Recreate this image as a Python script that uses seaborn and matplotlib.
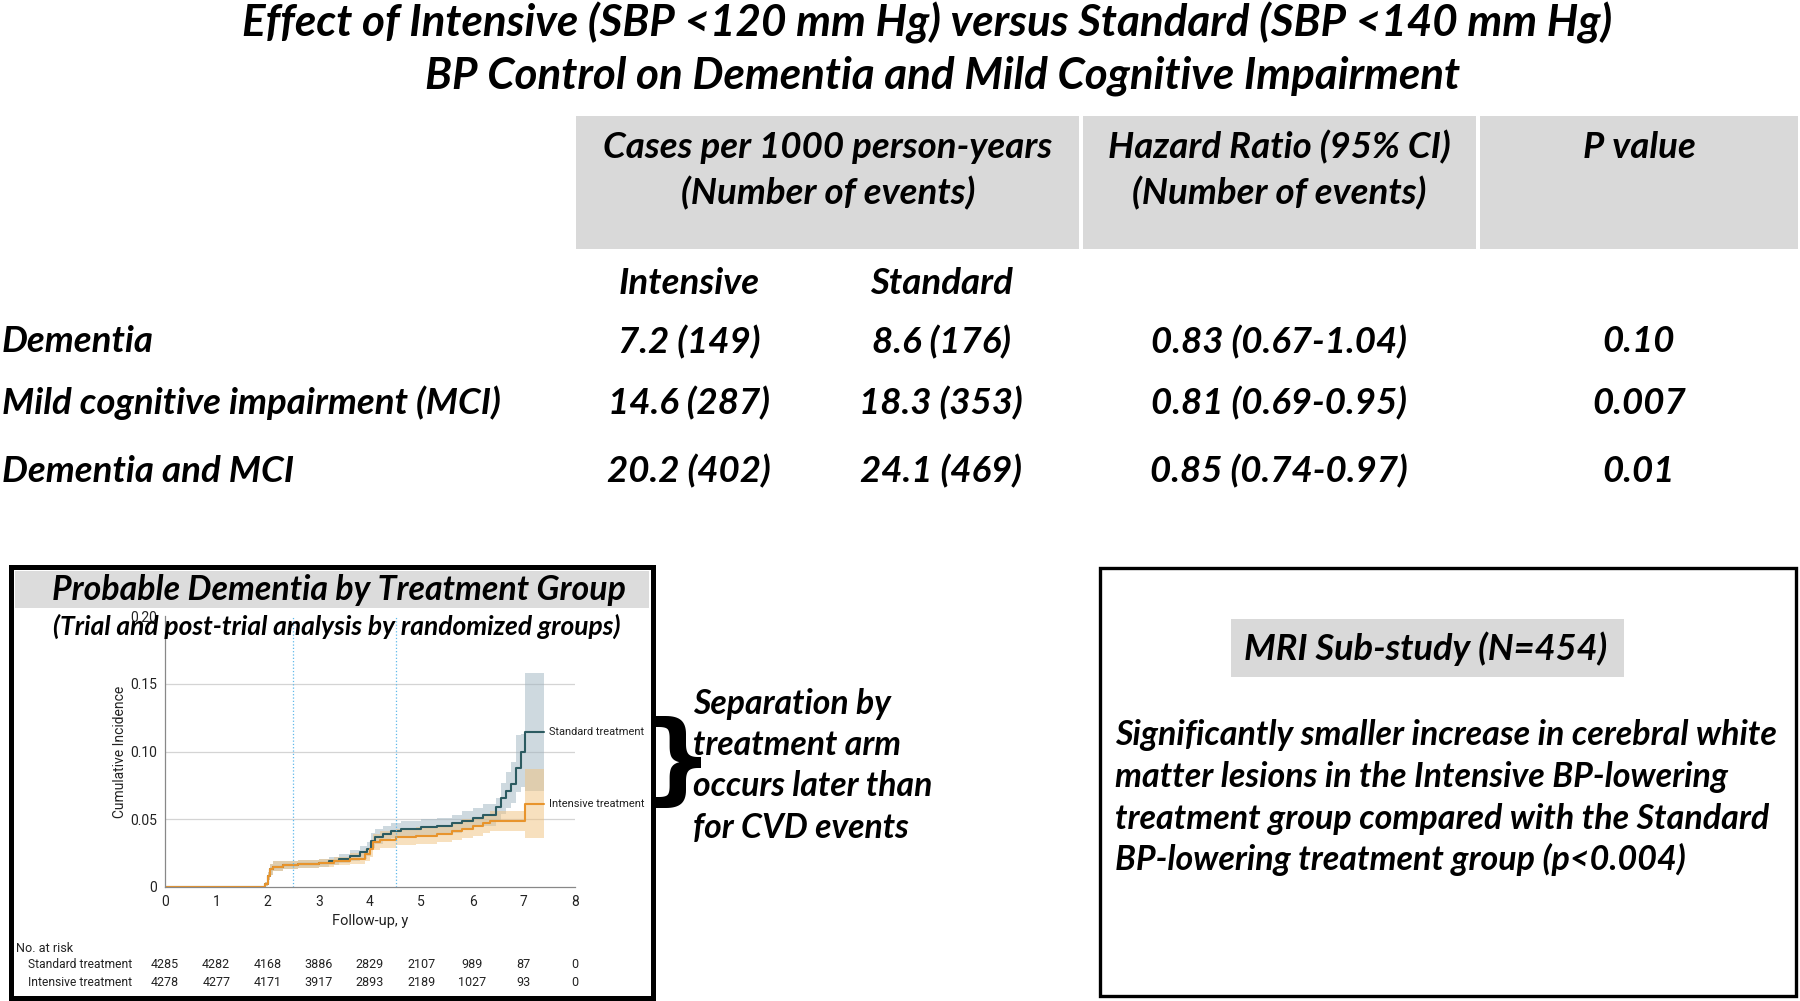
import numpy as np
import pandas as pd
import matplotlib
matplotlib.use("Agg")
import matplotlib.pyplot as plt
import matplotlib.transforms as mtransforms
from matplotlib.patches import Rectangle
import seaborn as sns

# ── Data ──────────────────────────────────────────────────────────────────────
title_lines = ["Effect of Intensive (SBP <120 mm Hg) versus Standard (SBP <140 mm Hg)",
               "BP Control on Dementia and Mild Cognitive Impairment"]

header_cols = ["Cases per 1000 person-years\n(Number of events)",
               "Hazard Ratio (95% CI)\n(Number of events)",
               "P value"]
sub_cols = ["Intensive", "Standard"]
outcomes = ["Dementia", "Mild cognitive impairment (MCI)", "Dementia and MCI"]
intensive_rates = ["7.2 (149)", "14.6 (287)", "20.2 (402)"]
standard_rates = ["8.6 (176)", "18.3 (353)", "24.1 (469)"]
hazard_ratios = ["0.83 (0.67-1.04)", "0.81 (0.69-0.95)", "0.85 (0.74-0.97)"]
p_values = ["0.10", "0.007", "0.01"]

# Kaplan-Meier style cumulative incidence
std_t = [0, 1.95, 2.0, 2.05, 2.1, 2.3, 2.6, 3.0, 3.2, 3.4, 3.6, 3.8, 3.95, 4.02, 4.1, 4.25,
         4.4, 4.6, 5.0, 5.3, 5.6, 5.8, 6.0, 6.2, 6.45, 6.55, 6.65, 6.75, 6.85, 6.95, 7.02, 7.4]
std_y = [0, 0.002, 0.008, 0.013, 0.015, 0.016, 0.017, 0.018, 0.019, 0.021, 0.023, 0.026, 0.028,
         0.034, 0.037, 0.039, 0.041, 0.043, 0.044, 0.045, 0.047, 0.049, 0.051, 0.053, 0.059,
         0.066, 0.071, 0.076, 0.088, 0.100, 0.1146, 0.1146]
std_lo = [0, 0.001, 0.005, 0.009, 0.012, 0.013, 0.014, 0.015, 0.016, 0.018, 0.019, 0.021, 0.023,
          0.029, 0.032, 0.034, 0.036, 0.037, 0.038, 0.039, 0.040, 0.042, 0.044, 0.045, 0.049,
          0.054, 0.058, 0.062, 0.070, 0.074, 0.071, 0.071]
std_hi = [0, 0.004, 0.011, 0.017, 0.019, 0.019, 0.020, 0.021, 0.022, 0.024, 0.027, 0.030, 0.033,
          0.040, 0.043, 0.045, 0.047, 0.049, 0.050, 0.051, 0.053, 0.056, 0.058, 0.061, 0.066,
          0.077, 0.085, 0.092, 0.112, 0.113, 0.158, 0.158]

int_t = [0, 1.95, 2.0, 2.05, 2.1, 2.3, 2.6, 3.0, 3.3, 3.6, 3.9, 4.0, 4.05, 4.2, 4.5, 4.9,
         5.3, 5.6, 5.8, 6.0, 6.2, 6.35, 7.02, 7.4]
int_y = [0, 0.002, 0.008, 0.013, 0.015, 0.016, 0.017, 0.018, 0.019, 0.021, 0.024, 0.028, 0.033,
         0.035, 0.037, 0.038, 0.039, 0.041, 0.043, 0.045, 0.047, 0.0487, 0.0615, 0.0615]
int_lo = [0, 0.001, 0.005, 0.009, 0.012, 0.013, 0.014, 0.015, 0.016, 0.017, 0.019, 0.022, 0.027,
          0.029, 0.031, 0.032, 0.033, 0.035, 0.036, 0.038, 0.040, 0.041, 0.036, 0.036]
int_hi = [0, 0.004, 0.011, 0.017, 0.019, 0.019, 0.020, 0.021, 0.022, 0.025, 0.028, 0.033, 0.039,
          0.041, 0.043, 0.044, 0.046, 0.048, 0.050, 0.052, 0.054, 0.056, 0.087, 0.087]

risk_years = [0, 1, 2, 3, 4, 5, 6, 7, 8]
risk_std = [4285, 4282, 4168, 3886, 2829, 2107, 989, 87, 0]
risk_int = [4278, 4277, 4171, 3917, 2893, 2189, 1027, 93, 0]

separation_lines = ["Separation by", "treatment arm", "occurs later than", "for CVD events"]
mri_heading = "MRI Sub-study (N=454)"
mri_lines = ["Significantly smaller increase in cerebral white",
             "matter lesions in the Intensive BP-lowering",
             "treatment group compared with the Standard",
             "BP-lowering treatment group (p<0.004)"]

# ── Style ─────────────────────────────────────────────────────────────────────
sns.set_theme(style="white")
plt.rcParams["font.family"] = ["Lato", "DejaVu Sans"]
BIG = ["Lato", "DejaVu Sans"]
SMALL = ["Roboto"]
INK = "#222222"
STD_C = "#2c5b61"
INT_C = "#e8942c"
GRAY = "#d9d9d9"

W, H = 1800, 1001
fig = plt.figure(figsize=(18, 10.01), dpi=100)
renderer = fig.canvas.get_renderer()


def fx(x):
    return x / W


def fy(y):
    return 1 - y / H


def fit(t, size, fit_w=None, fit_h=None):
    bb = t.get_window_extent(renderer)
    size = size * (fit_w / bb.width if fit_w else fit_h / bb.height)
    t.set_fontsize(size)
    return size


def put(x, y, s, size=20, ha="center", fit_w=None, fit_h=None, **kw):
    opts = dict(fontweight="bold", fontstyle="italic", family=BIG, color="black")
    opts.update(kw)
    t = fig.text(fx(x), fy(y), s, ha=ha, va="center", fontsize=size, **opts)
    if fit_w or fit_h:
        fit(t, size, fit_w, fit_h)
    return t


def box(x0, y0, x1, y1, **kw):
    fig.patches.append(Rectangle((fx(x0), fy(y1)), (x1 - x0) / W, (y1 - y0) / H,
                                 transform=fig.transFigure, **kw))


# ── Title and results table ───────────────────────────────────────────────────
t = put(927, 23, title_lines[0], size=26, fit_w=1372)
tsize = t.get_fontsize()
put(943, 76, title_lines[1], size=tsize)

box(576, 116, 1079, 249, facecolor=GRAY, edgecolor="none")
box(1083, 116, 1476, 249, facecolor=GRAY, edgecolor="none")
box(1480, 116, 1798, 249, facecolor=GRAY, edgecolor="none")

ref = put(828, 147, header_cols[0].split("\n")[0], size=22, fit_w=449)
fs = ref.get_fontsize()
put(828, 193, header_cols[0].split("\n")[1], size=fs)
put(1279, 147, header_cols[1].split("\n")[0], size=fs)
put(1279, 193, header_cols[1].split("\n")[1], size=fs)
put(1639, 147, header_cols[2], size=fs)

col_x = [689, 941, 1279, 1639]
put(col_x[0], 284, sub_cols[0], size=fs)
put(col_x[1], 284, sub_cols[1], size=fs)

row_y = [342, 403, 471]
for i, name in enumerate(outcomes):
    put(2, row_y[i], name, size=fs, ha="left")
    put(col_x[0], row_y[i], intensive_rates[i], size=fs)
    put(col_x[1], row_y[i], standard_rates[i], size=fs)
    put(col_x[2], row_y[i], hazard_ratios[i], size=fs)
    put(col_x[3], row_y[i], p_values[i], size=fs)

# ── Left panel: cumulative incidence plot ─────────────────────────────────────
box(11, 567, 653, 998, facecolor="white", edgecolor="black", linewidth=3.6, zorder=0.5)
box(15, 571, 649, 608, facecolor=GRAY, edgecolor="none", alpha=0.9, zorder=1)
put(339, 590, "Probable Dementia by Treatment Group", size=20, fit_w=574)
put(337, 626, "(Trial and post-trial analysis by randomized groups)", size=15, fit_w=569)

ax = fig.add_axes([fx(165), fy(887), (575 - 165) / W, (887 - 616) / H])
ax.set_zorder(2)
ax.patch.set_alpha(0)

df = pd.concat([
    pd.DataFrame({"t": std_t, "y": std_y, "lo": std_lo, "hi": std_hi, "arm": "Standard treatment"}),
    pd.DataFrame({"t": int_t, "y": int_y, "lo": int_lo, "hi": int_hi, "arm": "Intensive treatment"}),
], ignore_index=True)

band_c = {"Standard treatment": "#9fb4c0", "Intensive treatment": "#f0c27e"}
for arm, sub in df.groupby("arm", sort=False):
    ax.fill_between(sub["t"], sub["lo"], sub["hi"], step="post",
                    color=band_c[arm], alpha=0.5, linewidth=0)

sns.lineplot(data=df, x="t", y="y", hue="arm", estimator=None, sort=False,
             palette={"Standard treatment": STD_C, "Intensive treatment": INT_C},
             drawstyle="steps-post", linewidth=1.5, legend=False, ax=ax)

for arm, sub in df.groupby("arm", sort=False):
    lab = ax.text(7.5, sub["y"].iloc[-1], arm, ha="left", va="center", fontsize=9,
                  family=SMALL, color=INK)
    fit(lab, 9, fit_w=96)

ax.axvline(2.5, color="#5fb8ea", linestyle=":", linewidth=0.9)
ax.axvline(4.5, color="#5fb8ea", linestyle=":", linewidth=0.9)

ax.set_xlim(0, 8)
ax.set_ylim(0, 0.20)
ax.set_xticks(risk_years)
ax.set_xticklabels([str(v) for v in risk_years], family=SMALL, fontsize=10, color=INK)
ax.set_yticks([0, 0.05, 0.10, 0.15, 0.20])
ax.set_yticklabels(["0", "0.05", "0.10", "0.15", "0.20"], family=SMALL, fontsize=10, color=INK)
ax.yaxis.grid(True, color="#d4d4d4", linewidth=0.9)
ax.get_ygridlines()[-1].set_visible(False)
ax.get_ygridlines()[0].set_visible(False)
ax.tick_params(axis="both", length=4, width=0.8, color="#888888", pad=2, direction="out")
for side in ["top", "right"]:
    ax.spines[side].set_visible(False)
for side in ["left", "bottom"]:
    ax.spines[side].set_color("#888888")
    ax.spines[side].set_linewidth(0.9)
ax.set_xlabel("Follow-up, y", family=SMALL, fontsize=10.5, color=INK, labelpad=3)
ax.set_ylabel("Cumulative Incidence", family=SMALL, fontsize=10, color=INK, labelpad=2)

# number at risk
tr = mtransforms.blended_transform_factory(ax.transData, fig.transFigure)
lab = fig.text(fx(28), fy(965), "Standard treatment", ha="left", va="center", fontsize=9,
               family=SMALL, color=INK)
rs = fit(lab, 9, fit_w=104)
fig.text(fx(28), fy(983), "Intensive treatment", ha="left", va="center", fontsize=rs,
         family=SMALL, color=INK)
fig.text(fx(16), fy(949), "No. at risk", ha="left", va="center", fontsize=rs + 0.5,
         family=SMALL, color=INK)
for yr, a, b in zip(risk_years, risk_std, risk_int):
    ax.text(yr, fy(965), str(a), transform=tr, ha="center", va="center", fontsize=9,
            family=SMALL, color=INK, clip_on=False)
    ax.text(yr, fy(983), str(b), transform=tr, ha="center", va="center", fontsize=9,
            family=SMALL, color=INK, clip_on=False)

# ── Brace and note ────────────────────────────────────────────────────────────
put(678, 765, "}", size=60, fit_h=96, fontstyle="normal", family=["DejaVu Sans"])
ref = put(693, 786, separation_lines[2], size=19, ha="left", fit_w=240)
ss = ref.get_fontsize()
for yy, line in zip([704, 745, 828], [separation_lines[0], separation_lines[1], separation_lines[3]]):
    put(693, yy, line, size=ss, ha="left")

# ── Right panel: MRI sub-study ────────────────────────────────────────────────
box(1100, 568, 1796, 996, facecolor="none", edgecolor="black", linewidth=2.4)
box(1231, 619, 1624, 677, facecolor=GRAY, edgecolor="none")
put(1426, 649, mri_heading, size=22, fit_w=363)
ref = put(1115, 735, mri_lines[0], size=18, ha="left", fit_w=663)
ms = ref.get_fontsize()
for yy, line in zip([777, 819, 859], mri_lines[1:]):
    put(1115, yy, line, size=ms, ha="left")

fig.savefig("out.png", dpi=100)
